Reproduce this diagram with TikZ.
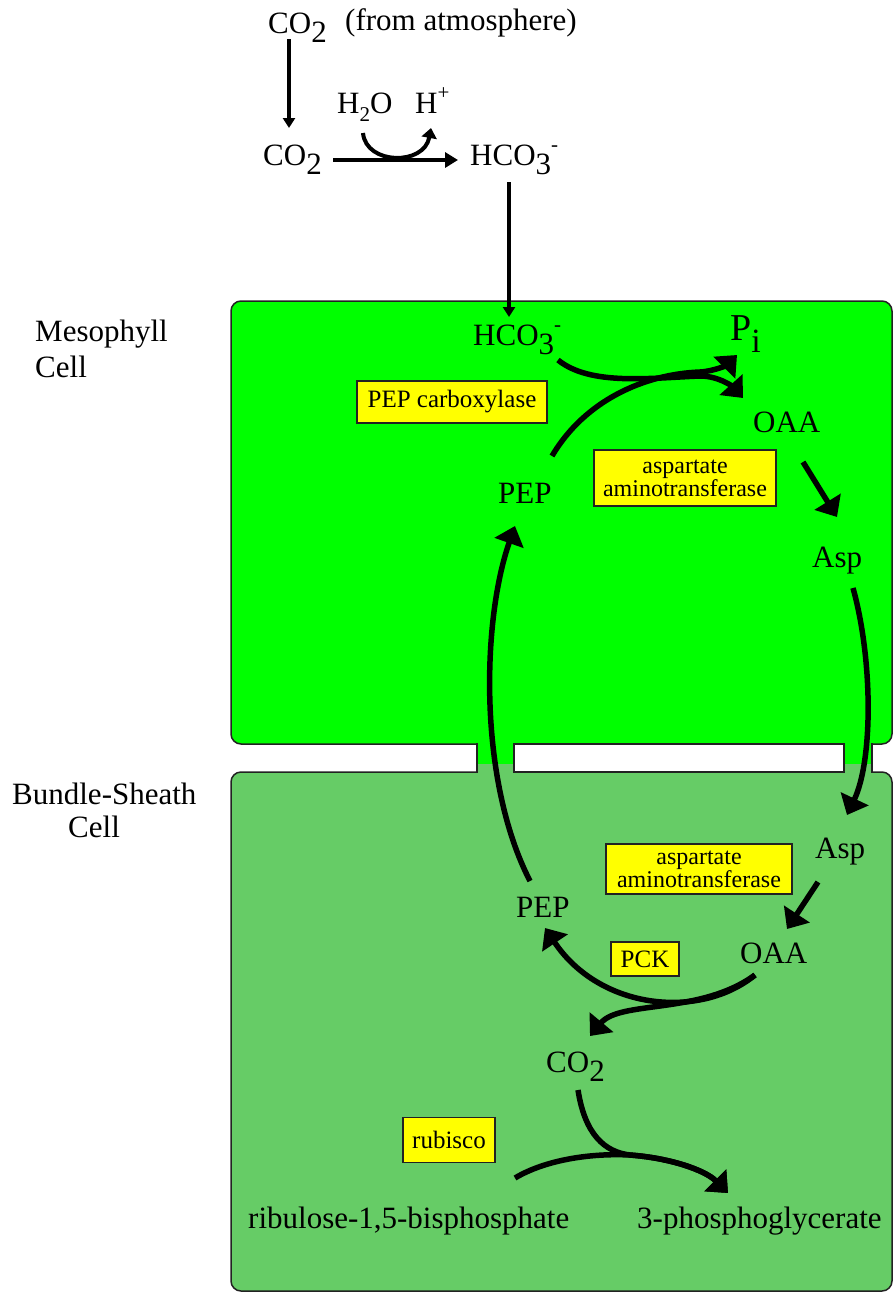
\documentclass[tikz,border=0pt]{standalone}
\usepackage{fontspec}
\setmainfont{Liberation Serif}
\usetikzlibrary{arrows.meta}
\definecolor{meso}{HTML}{00FF00}
\definecolor{bundle}{HTML}{66CC66}
\definecolor{enz}{HTML}{FFFF00}
\definecolor{edge}{HTML}{222222}
\newcommand{\dn}[1]{\raisebox{-0.32em}{#1}}
\newcommand{\smdn}[1]{\raisebox{-0.28em}{\fontsize{21}{21}\selectfont #1}}
\newcommand{\up}[1]{\raisebox{0.45em}{\fontsize{21}{21}\selectfont #1}}
\begin{document}
\begin{tikzpicture}[x=1pt,y=-1pt,
  lbl/.style={anchor=base west, inner sep=0pt, font=\fontsize{31}{34}\selectfont},
  enzbox/.style={draw=edge, line width=1.4pt, fill=enz, inner sep=0pt, align=center, font=\fontsize{25}{21}\selectfont},
  enztwo/.style={enzbox, font=\fontsize{24}{20}\selectfont},
  celledge/.style={draw=edge, line width=1.5pt},
  bigarr/.style={line width=5.5pt, -{Triangle[length=18pt,width=30pt]}},
  medarr/.style={line width=4.5pt, -{Triangle[length=13pt,width=15pt]}},
  thinarr/.style={line width=3.5pt, -{Triangle[length=10pt,width=12pt]}}]
\useasboundingbox (0,0) rectangle (894,1293);

% ---- cells ----
\fill[meso, rounded corners=10pt] (231,301) rectangle (892,744);
\fill[bundle, rounded corners=10pt] (231,772) rectangle (892,1291);
% plasmodesmata channels
\fill[meso] (477,742) rectangle (514,764);
\fill[bundle] (477,763.5) rectangle (514,774);
\fill[meso] (844,742) rectangle (872,764);
\fill[bundle] (844,763.5) rectangle (872,774);
% borders
\draw[celledge, rounded corners=10pt] (477,744) -- (231,744) -- (231,301) -- (892,301) -- (892,744) -- (872,744);
\draw[celledge] (514,744) -- (844,744);
\draw[celledge, rounded corners=10pt] (477,772) -- (231,772) -- (231,1291) -- (892,1291) -- (892,772) -- (872,772);
\draw[celledge] (514,772) -- (844,772);
\draw[celledge] (477,743.3) -- (477,772.7) (514,743.3) -- (514,772.7)
                (844,743.3) -- (844,772.7) (872,743.3) -- (872,772.7);

% ---- cell labels ----
\node[lbl] (mesoA) at (35,341) {Mesophyll};
\node[lbl] (mesoB) at (35,377) {Cell};
\node[lbl] (bsA) at (12,804) {Bundle-Sheath};
\node[lbl] (bsB) at (68,837) {Cell};

% ---- metabolites ----
\node[lbl] (co2atm) at (268,33) {CO\dn{2}};
\node[lbl] (fromatm) at (345,30) {(from atmosphere)};
\node[lbl] (co2b) at (263,165) {CO\dn{2}};
\node[lbl] (h2o) at (337,113) {H\smdn{2}O};
\node[lbl] (hplus) at (415,113) {H\up{+}};
\node[lbl] (hco3a) at (470,165) {HCO\dn{3}\up{-}};
\node[lbl] (hco3m) at (473,345) {HCO\dn{3}\up{-}};
\node[lbl, font=\fontsize{38}{40}\selectfont] (pi) at (730,340) {P\raisebox{-0.33em}{\fontsize{34}{34}\selectfont i}};
\node[lbl] (oaam) at (753,432) {OAA};
\node[lbl] (pepm) at (498,503) {PEP};
\node[lbl] (aspm) at (812,567) {Asp};
\node[lbl] (aspb) at (815,858) {Asp};
\node[lbl] (pepb) at (516,917) {PEP};
\node[lbl] (oaab) at (740,963) {OAA};
\node[lbl] (co2c) at (546,1072) {CO\dn{2}};
\node[lbl] (rubp) at (248,1228) {ribulose-1,5-bisphosphate};
\node[lbl] (pga) at (637,1228) {3-phosphoglycerate};

% ---- enzymes ----
\node[enzbox, minimum width=190pt, minimum height=42pt] (pepc) at (452,402) {PEP carboxylase};
\node[enztwo, minimum width=182pt, minimum height=56pt] (aat1) at (685,478) {aspartate\\aminotransferase};
\node[enztwo, minimum width=186pt, minimum height=50pt] (aat2) at (699,869) {aspartate\\aminotransferase};
\node[enzbox, minimum width=68pt, minimum height=34pt] (pck) at (645,959) {PCK};
\node[enzbox, minimum width=92pt, minimum height=45pt] (rub) at (449,1140) {rubisco};

% ---- connector end points ----
\coordinate (a1s) at (289,39);   \coordinate (a1e) at (289,128);
\coordinate (a2s) at (333,160);  \coordinate (a2e) at (458,160);
\coordinate (w1) at (363,133);   \coordinate (w2) at (431,128);
\coordinate (a3s) at (509,182);  \coordinate (a3e) at (509,317);
\coordinate (pcS) at (552,456);  \coordinate (piT) at (737,355);
\coordinate (hcS) at (558,360);  \coordinate (oaT) at (743,398);
\coordinate (mrgA) at (700,372); \coordinate (mrgB) at (700,376);
\coordinate (o2aS) at (803,462); \coordinate (o2aT) at (837,517);
\coordinate (aaS) at (853,588);  \coordinate (aaT) at (847,815);
\coordinate (ppS) at (530,881);  \coordinate (ppT) at (515,526);
\coordinate (baS) at (818,882);  \coordinate (baT) at (787,929);
\coordinate (ocS) at (755,975);  \coordinate (opT) at (545,928);
\coordinate (ocT) at (590,1036);
\coordinate (cS) at (578,1090);  \coordinate (rS) at (515,1178);
\coordinate (mrg) at (630,1155); \coordinate (pgT) at (728,1193);

% ---- connectors ----
\draw[thinarr] (a1s) -- (a1e);
\draw[medarr] (a2s) -- (a2e);
\draw[line width=4pt, -{Triangle[length=10pt,width=15pt]}] (w1) .. controls (366,165) and (424,166) .. (w2);
\draw[thinarr] (a3s) -- (a3e);
\draw[bigarr] (pcS) .. controls (585,400) and (645,374) .. (mrgA) .. controls (716,371) and (728,364) .. (piT);
\draw[bigarr] (hcS) .. controls (590,386) and (650,378) .. (mrgB) .. controls (720,376) and (734,388) .. (oaT);
\draw[bigarr] (o2aS) -- (o2aT);
\draw[bigarr] (aaS) .. controls (873,660) and (873,760) .. (aaT);
\draw[bigarr] (ppS) .. controls (478,780) and (482,620) .. (ppT);
\draw[bigarr] (baS) -- (baT);
\draw[bigarr] (ocS) .. controls (700,1020) and (600,1010) .. (opT);
\draw[bigarr] (ocS) .. controls (700,1015) and (620,1000) .. (ocT);
\draw[bigarr] (cS) .. controls (585,1135) and (605,1152) .. (mrg) .. controls (670,1158) and (705,1170) .. (pgT);
\draw[bigarr] (rS) .. controls (545,1160) and (590,1153) .. (mrg) .. controls (670,1158) and (705,1170) .. (pgT);
\end{tikzpicture}
\end{document}
